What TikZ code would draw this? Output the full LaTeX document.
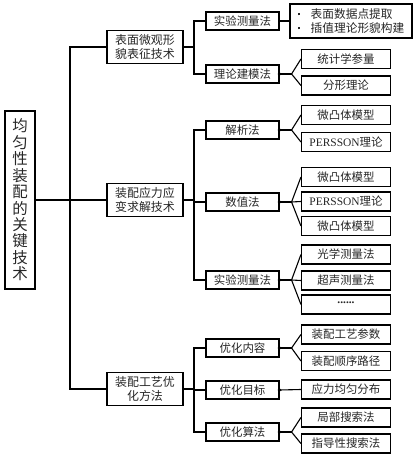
\documentclass[tikz,border=0pt]{standalone}
\usepackage{fontspec}
\setmainfont{Liberation Serif}
\newfontfamily\cjk{Noto Sans CJK SC}
\begin{document}
\begin{tikzpicture}[x=1bp,y=-1bp,
 bx/.style={draw, line width=1.1bp, inner sep=0pt, align=center, text=black!85, font=\cjk\fontsize{11.5}{14}\selectfont},
 lone/.style={bx, minimum width=76bp, minimum height=33bp, font=\cjk\fontsize{12}{14}\selectfont},
 ltwo/.style={bx, minimum width=73bp, minimum height=18bp},
 lthree/.style={bx, minimum width=89bp, minimum height=19bp},
 ln/.style={line width=1.1bp},
 dotn/.style={circle, fill, inner sep=0pt, minimum size=3.8bp}]
\useasboundingbox (0,0) rectangle (416,460);
% root
\node[bx, minimum width=30bp, minimum height=178bp, font=\cjk\fontsize{15.5}{16.5}\selectfont] (root) at (20,200) {均\\匀\\性\\装\\配\\的\\关\\键\\技\\术};
% level 1
\node[lone] (L1) at (145,47) {表面微观形\\貌表征技术};
\node[lone] (L2) at (145,200) {装配应力应\\变求解技术};
\node[lone] (L3) at (145,389) {装配工艺优\\化方法};
% level 2
\node[ltwo] (A1) at (242.5,21) {实验测量法};
\node[ltwo] (A2) at (242.5,74) {理论建模法};
\node[ltwo] (B1) at (242.5,130) {解析法};
\node[ltwo] (B2) at (242.5,202) {数值法};
\node[ltwo] (B3) at (242.5,280) {实验测量法};
\node[ltwo] (C1) at (242.5,348) {优化内容};
\node[ltwo] (C2) at (242.5,390) {优化目标};
\node[ltwo] (C3) at (242.5,432) {优化算法};
% level 3
\node[bx, minimum width=122bp, minimum height=34bp, align=left, font=\cjk\fontsize{11.75}{14}\selectfont] (T0) at (351,21)
 {\makebox[13bp][l]{\raisebox{3bp}{\rule{2.5bp}{2.5bp}}}表面数据点提取\\\makebox[13bp][l]{\raisebox{3bp}{\rule{2.5bp}{2.5bp}}}插值理论形貌构建};
\node[lthree] (A21) at (346,59) {统计学参量};
\node[lthree] (A22) at (346,85.5) {分形理论};
\node[lthree] (B11) at (346,115) {微凸体模型};
\node[lthree] (B12) at (346,142) {\rmfamily PERSSON{\cjk 理论}};
\node[lthree] (B21) at (346,177) {微凸体模型};
\node[lthree] (B22) at (346,201.5) {\rmfamily PERSSON{\cjk 理论}};
\node[lthree] (B23) at (346,226) {微凸体模型};
\node[lthree] (B31) at (346,254.5) {光学测量法};
\node[lthree] (B32) at (346,280.5) {超声测量法};
\node[lthree] (B33) at (346,304.5) {\rmfamily\bfseries\raisebox{0.3em}{......}};
\node[lthree] (C11) at (346,334.5) {装配工艺参数};
\node[lthree] (C12) at (346,361) {装配顺序路径};
\node[lthree] (C21) at (346,389.5) {应力均匀分布};
\node[lthree] (C31) at (346,417.5) {局部搜索法};
\node[lthree] (C32) at (346,443.5) {指导性搜索法};
% trunk
\coordinate (t) at (70,200);
\draw[ln] (root.east) -- (L2.west);
\draw[ln] (L1.west) -| (t) |- (L3.west);
% brackets
\coordinate (b1) at (194,47);
\coordinate (b2) at (194,200);
\coordinate (b3) at (194,389);
\draw[ln] (L1.east) -- (b1);
\draw[ln] (A1.west) -| (b1) |- (A2.west);
\draw[ln] (L2.east) -- (b2);
\draw[ln] (B1.west) -| (b2) |- (B3.west);
\draw[ln] (B2.west) -- (B2.west -| b2);
\draw[ln] (L3.east) -- (b3);
\draw[ln] (C1.west) -| (b3) |- (C3.west);
\draw[ln] (C2.west) -- (C2.west -| b3);
% level 2 -> level 3
\draw[ln] (A1.east) -- (T0.west |- A1.east);
\foreach \p/\cs in {A2/{A21,A22}, B1/{B11,B12}, B2/{B21,B22,B23}, B3/{B31,B32,B33}, C1/{C11,C12}, C3/{C31,C32}}{
  \node[dotn] at (\p.east) {};
  \coordinate (j\p) at ([xshift=12bp]\p.east);
  \draw[ln] (\p.east) -- (j\p);
  \foreach \c in \cs { \draw[ln] (j\p) -- (\c.west); }
}
\node[dotn] at (C2.east) {};
\draw[ln] (C2.east) -- (C21.west);
\end{tikzpicture}
\end{document}
